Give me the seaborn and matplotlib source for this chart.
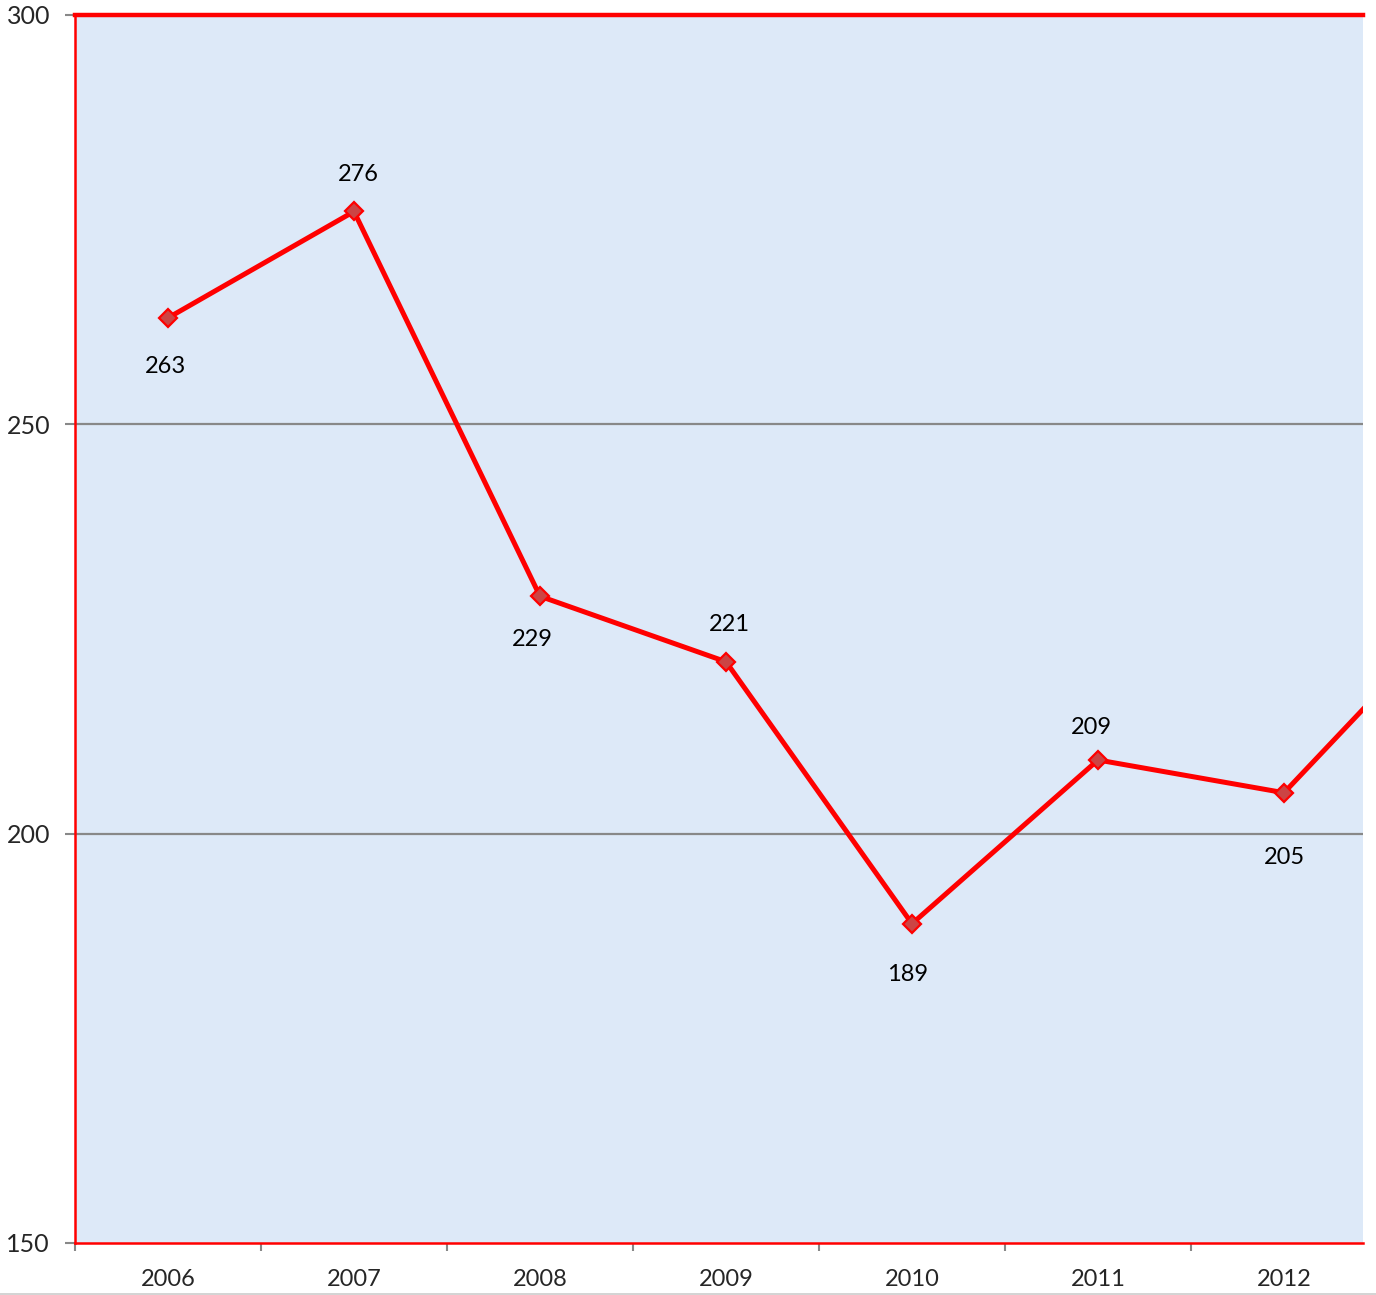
import matplotlib
matplotlib.use("Agg")
import matplotlib.pyplot as plt
import seaborn as sns
import pandas as pd
from matplotlib.lines import Line2D

years = [2006, 2007, 2008, 2009, 2010, 2011, 2012, 2013]
values = [263, 276, 229, 221, 189, 209, 205, 229]
label_years = [2006, 2007, 2008, 2009, 2010, 2011, 2012]
label_values = [263, 276, 229, 221, 189, 209, 205]
y_ticks = [150, 200, 250, 300]

# label offsets in pixels (layout only)
label_dx = [-3, 4, -8, 3, -4, -7, 0]
label_dy = [-49, 37, -43, 37, -51, 32, -65]

sns.set_theme(style="white")
plt.rcParams['font.family'] = ['Lato', 'DejaVu Sans']

fig = plt.figure(figsize=(13.76, 12.95), dpi=100)
W, H = 1376, 1295
ax = fig.add_axes([75 / W, (H - 1243) / H, (1363 - 75) / W, (1243 - 15) / H])
ax.set_facecolor('#dde9f8')

df = pd.DataFrame({'year': years, 'value': values})
sns.lineplot(data=df, x='year', y='value', ax=ax, color='#ff0000', linewidth=3.6,
             marker='D', markersize=9, markerfacecolor='#cc4444',
             markeredgecolor='#ff0000', markeredgewidth=1.6, zorder=5)

for yr, v, dx, dy in zip(label_years, label_values, label_dx, label_dy):
    ax.annotate(str(v), (yr, v), xytext=(dx, dy), textcoords='offset pixels',
                ha='center', va='center', fontsize=17, color='black', zorder=6)

for yv in [200, 250]:
    ax.axhline(yv, color='#888888', linewidth=1.6, zorder=1)

ax.set_yticks(y_ticks)
ax.set_yticklabels([str(t) for t in y_ticks])

ax.set_xticks([y - 0.5 for y in years], minor=False)
ax.set_xticklabels([])
ax.set_xticks(years, minor=True)
ax.set_xticklabels([str(y) for y in years], minor=True)
ax.tick_params(axis='x', which='major', length=6, width=1.5, color='#888888', direction='out', bottom=True)
ax.tick_params(axis='x', which='minor', length=0, pad=19, labelsize=17, bottom=True)
ax.tick_params(axis='y', which='major', length=7, width=1.5, color='#888888', direction='out',
               left=True, pad=11, labelsize=18)

ax.set_ylim(150, 300)
ax.set_xlim(2005.5, 2005.5 + (1363 - 75) / 186.0)

ax.set_xlabel('')
ax.set_ylabel('')

for side in ['top', 'left', 'bottom']:
    ax.spines[side].set_visible(True)
    ax.spines[side].set_color('#ff0000')
ax.spines['top'].set_linewidth(3.2)
ax.spines['left'].set_linewidth(1.8)
ax.spines['bottom'].set_linewidth(1.8)
ax.spines['right'].set_visible(False)

fig.add_artist(Line2D([0, 1], [1.5 / H, 1.5 / H], color='#cccccc', linewidth=1.2,
                      transform=fig.transFigure))

fig.savefig('out.png', dpi=100, facecolor='white')
